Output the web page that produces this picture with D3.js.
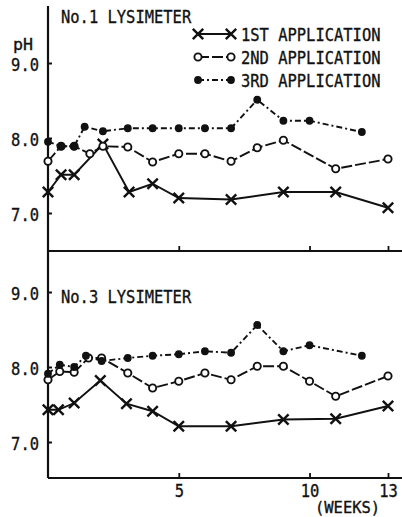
<!DOCTYPE html>
<html>
<head>
<meta charset="utf-8">
<script src="https://cdn.jsdelivr.net/npm/d3@7"></script>
<style>
  html, body { margin: 0; padding: 0; background: #fff; }
  svg { display: block; }
  text { font-family: "DejaVu Sans Mono", "Liberation Mono", monospace; fill: #111; stroke: #111; stroke-width: 0.35px; }
</style>
</head>
<body>
<svg id="chart" width="402" height="517"></svg>
<script>
// ---- Data: soil-water pH after each fertiliser application (weeks since application)
const seriesNames = ["1ST APPLICATION", "2ND APPLICATION", "3RD APPLICATION"];
const panelTitles = ["No.1 LYSIMETER", "No.3 LYSIMETER"];
const yTickValues = [7, 8, 9];
const yTickLabels = ["7.0", "8.0", "9.0"];
const xTickValues = [5, 10, 13];
const xTickLabels = ["5", "10", "13"];

// No.1 lysimeter
const lys1FirstWeeks  = [0, 0.5, 1, 2.1, 3.1, 4, 5, 7, 9, 11, 13];
const lys1FirstPH     = [7.28, 7.51, 7.51, 7.92, 7.28, 7.39, 7.2, 7.18, 7.28, 7.28, 7.07];
const lys1SecondWeeks = [0, 0.5, 1, 1.6, 2.1, 3.05, 4, 5, 6, 7, 8, 9, 11, 13];
const lys1SecondPH    = [7.69, 7.89, 7.89, 7.79, 7.89, 7.88, 7.68, 7.79, 7.79, 7.69, 7.87, 7.97, 7.59, 7.72];
const lys1ThirdWeeks  = [0, 0.5, 1, 1.4, 2.1, 3.05, 4, 5, 6, 7, 8, 9, 10, 12];
const lys1ThirdPH     = [7.95, 7.89, 7.89, 8.15, 8.09, 8.13, 8.13, 8.13, 8.13, 8.13, 8.51, 8.23, 8.23, 8.08];

// No.3 lysimeter
const lys3FirstWeeks  = [0, 0.4, 1, 2, 3, 4, 5, 7, 9, 11, 13];
const lys3FirstPH     = [7.43, 7.43, 7.52, 7.82, 7.51, 7.41, 7.21, 7.21, 7.3, 7.31, 7.48];
const lys3SecondWeeks = [0, 0.45, 1, 1.55, 2.05, 3.05, 4, 5, 6, 7, 8, 9, 10, 11, 13];
const lys3SecondPH    = [7.83, 7.94, 7.93, 8.12, 8.12, 7.92, 7.72, 7.81, 7.92, 7.83, 8.01, 8.01, 7.81, 7.61, 7.88];
const lys3ThirdWeeks  = [0, 0.45, 1, 1.45, 2.05, 3.05, 4, 5, 6, 7, 8, 9, 10, 12];
const lys3ThirdPH     = [7.91, 8.03, 8.0, 8.15, 8.08, 8.12, 8.15, 8.17, 8.21, 8.19, 8.56, 8.21, 8.29, 8.15];

const zip = (w, p) => w.map((d, i) => ({ week: d, ph: p[i] }));
const panels = [
  { title: panelTitles[0], series: [zip(lys1FirstWeeks, lys1FirstPH), zip(lys1SecondWeeks, lys1SecondPH), zip(lys1ThirdWeeks, lys1ThirdPH)] },
  { title: panelTitles[1], series: [zip(lys3FirstWeeks, lys3FirstPH), zip(lys3SecondWeeks, lys3SecondPH), zip(lys3ThirdWeeks, lys3ThirdPH)] }
];

// ---- Layout
const svg = d3.select("#chart");
const ink = "#111";
const axisX = 48, rightEdge = 402;
const x = d3.scaleLinear().domain([0, 13]).range([48, 388]);
const panelGeom = [
  { top: 6,   bottom: 251, y: d3.scaleLinear().domain([7, 9]).range([213, 63]) },
  { top: 251, bottom: 478, y: d3.scaleLinear().domain([7, 9]).range([442, 292]) }
];
const styles = [
  { dash: null,      marker: "x" },
  { dash: "11,3",    marker: "open" },
  { dash: "6,3,2,3", marker: "filled" }
];
const charW = 9.3;   // condensed type: width per character
const fontSize = 18.5;

function label(g, str, xPos, yPos, size) {
  return g.append("text")
    .attr("x", xPos).attr("y", yPos)
    .attr("font-size", size || fontSize)
    .attr("textLength", str.length * charW)
    .attr("lengthAdjust", "spacingAndGlyphs")
    .text(str);
}

function drawMarker(g, kind, cx, cy) {
  if (kind === "x") {
    const s = 5.2;
    g.append("path")
      .attr("d", `M${cx - s},${cy - s}L${cx + s},${cy + s}M${cx - s},${cy + s}L${cx + s},${cy - s}`)
      .attr("stroke", ink).attr("stroke-width", 2.4).attr("fill", "none");
  } else if (kind === "open") {
    g.append("circle").attr("cx", cx).attr("cy", cy).attr("r", 3.6)
      .attr("fill", "#fff").attr("stroke", ink).attr("stroke-width", 1.9);
  } else {
    g.append("circle").attr("cx", cx).attr("cy", cy).attr("r", 3.9).attr("fill", ink);
  }
}

panels.forEach((panel, pi) => {
  const geom = panelGeom[pi];
  const y = geom.y;
  const g = svg.append("g");

  // vertical axis line
  g.append("line").attr("x1", axisX).attr("x2", axisX)
    .attr("y1", geom.top).attr("y2", geom.bottom)
    .attr("stroke", ink).attr("stroke-width", 2.2);
  // horizontal axis line
  g.append("line").attr("x1", axisX).attr("x2", rightEdge)
    .attr("y1", geom.bottom).attr("y2", geom.bottom)
    .attr("stroke", ink).attr("stroke-width", 2);

  // y axis with inward ticks
  const yAxis = d3.axisLeft(y).tickValues(yTickValues)
    .tickFormat((d, i) => yTickLabels[i]).tickSizeInner(-4).tickSizeOuter(0).tickPadding(9);
  const ya = g.append("g").attr("transform", `translate(${axisX},0)`).call(yAxis);
  ya.select(".domain").remove();
  ya.selectAll(".tick line").attr("stroke", ink).attr("stroke-width", 2);
  ya.selectAll(".tick text")
    .attr("font-size", fontSize).attr("dy", "0.4em")
    .attr("textLength", 3 * charW).attr("lengthAdjust", "spacingAndGlyphs")
    .attr("font-family", "DejaVu Sans Mono").attr("fill", ink);

  // x axis with inward ticks
  const xAxis = d3.axisBottom(x).tickValues(xTickValues)
    .tickFormat((d, i) => pi === 1 ? xTickLabels[i] : "").tickSizeInner(-5).tickSizeOuter(0).tickPadding(6);
  const xa = g.append("g").attr("transform", `translate(0,${geom.bottom})`).call(xAxis);
  xa.select(".domain").remove();
  xa.selectAll(".tick line").attr("stroke", ink).attr("stroke-width", 1.8);
  xa.selectAll(".tick text")
    .attr("font-size", fontSize).attr("dy", "0.72em")
    .attr("font-family", "DejaVu Sans Mono").attr("fill", ink)
    .each(function (d, i) {
      const s = xTickLabels[i];
      if (s) d3.select(this).attr("textLength", s.length * charW).attr("lengthAdjust", "spacingAndGlyphs");
    });

  // panel title
  label(g, panel.title, 61, pi === 0 ? 23 : 303);

  // series lines and markers
  const line = d3.line().x(d => x(d.week)).y(d => y(d.ph));
  panel.series.forEach((data, si) => {
    const st = styles[si];
    g.append("path").datum(data)
      .attr("d", line).attr("fill", "none")
      .attr("stroke", ink).attr("stroke-width", 1.9)
      .attr("stroke-dasharray", st.dash);
  });
  panel.series.forEach((data, si) => {
    data.forEach(d => drawMarker(g, styles[si].marker, x(d.week), y(d.ph)));
  });
});

// pH axis title
svg.append("text").attr("x", 13).attr("y", 50)
  .attr("font-size", 16).attr("textLength", 20).attr("lengthAdjust", "spacingAndGlyphs")
  .text("pH");

// x axis unit
label(svg, "(WEEKS)", 315, 513, 16);

// legend
const legend = svg.append("g");
const legendRows = [34, 57, 80];
seriesNames.forEach((name, i) => {
  const ly = legendRows[i];
  legend.append("line").attr("x1", 198).attr("x2", 231).attr("y1", ly).attr("y2", ly)
    .attr("stroke", ink).attr("stroke-width", 1.9).attr("stroke-dasharray", styles[i].dash);
  drawMarker(legend, styles[i].marker, 198, ly);
  drawMarker(legend, styles[i].marker, 231, ly);
  label(legend, name, 241, ly + 7, 17.5);
});
</script>
</body>
</html>
